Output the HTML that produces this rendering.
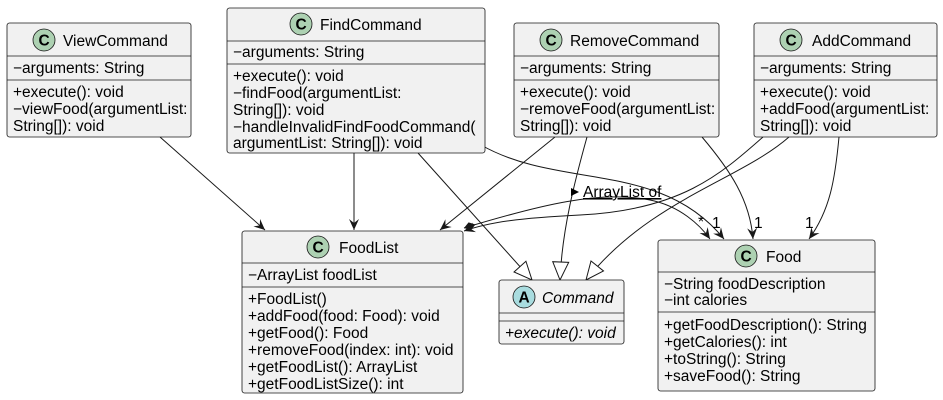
<!DOCTYPE html>
<html><head><meta charset="utf-8"><style>
body{margin:0;background:#fff;width:943px;height:400px;overflow:hidden}
svg{display:block}
text{font-family:"Liberation Sans","DejaVu Sans",sans-serif;font-size:15.5px;fill:#000}
.box{fill:#f1f1f1;stroke:#181818;stroke-width:0.8}
.ln{stroke:#181818;stroke-width:0.8}
.e{fill:none;stroke:#181818;stroke-width:1}
</style></head><body>
<svg width="943" height="400" viewBox="0 0 943 400">
<defs>
<marker id="a" viewBox="0 0 12 12" refX="11" refY="6" markerWidth="12" markerHeight="12" orient="auto" markerUnits="userSpaceOnUse"><path d="M0,1 L11,6 L0,11 L4,6 Z" fill="#181818"/></marker>
<marker id="t" viewBox="0 0 20 20" refX="19" refY="10" markerWidth="20" markerHeight="20" orient="auto" markerUnits="userSpaceOnUse"><path d="M1,2 L19,10 L1,18 Z" fill="#fff" stroke="#181818"/></marker>
<marker id="d" viewBox="0 0 14 10" refX="1" refY="5" markerWidth="14" markerHeight="10" orient="auto" markerUnits="userSpaceOnUse"><path d="M1,5 L7,1 L13,5 L7,9 Z" fill="#181818"/></marker>
</defs>

<path class="e" d="M160,137 L265,230" marker-end="url(#a)"/>
<path class="e" d="M354,153 L354,230" marker-end="url(#a)"/>
<path class="e" d="M418,153 L532,280" marker-end="url(#t)"/>
<path class="e" d="M481,145 C560,190 660,160 724,239" marker-end="url(#a)"/>
<path class="e" d="M555,137 L440,230" marker-end="url(#a)"/>
<path class="e" d="M587,137 C575,180 562,230 560,280" marker-end="url(#t)"/>
<path class="e" d="M702,137 C730,170 750,200 753,239" marker-end="url(#a)"/>
<path class="e" d="M763,137 C720,175 680,210 580,215 C520,218 490,222 464,231" marker-end="url(#a)"/>
<path class="e" d="M789,137 C740,180 650,200 586,280" marker-end="url(#t)"/>
<path class="e" d="M839,137 C835,180 830,210 809,239" marker-end="url(#a)"/>
<path class="e" d="M464,228 C540,205 600,190 650,200 C680,206 700,225 710,239" marker-start="url(#d)" marker-end="url(#a)"/>
<path d="M571,188 L579,192 L571,196 Z" fill="#000"/>
<text x="583" y="197" font-size="13.5" text-decoration="underline">ArrayList of</text>
<text x="698" y="227" font-size="12">*</text>
<text x="712" y="228" font-size="14">1</text>
<text x="754" y="228" font-size="14">1</text>
<text x="805" y="228" font-size="14">1</text>

<rect class="box" x="7" y="23" width="184" height="114" rx="2.5"/>
<circle cx="44" cy="40" r="11" fill="#add1b2" stroke="#181818" stroke-width="0.8"/><text x="38.5" y="45.5" font-weight="bold" font-size="15">C</text>
<text x="63" y="46" font-size="16.5">ViewCommand</text>
<line class="ln" x1="7" y1="56" x2="191" y2="56"/>
<text x="13" y="73">−arguments: String</text>
<line class="ln" x1="7" y1="80" x2="191" y2="80"/>
<text x="13" y="97">+execute(): void</text>
<text x="13" y="114">−viewFood(argumentList:</text>
<text x="13" y="131">String[]): void</text>

<rect class="box" x="227" y="8" width="258" height="145" rx="2.5"/>
<circle cx="301" cy="24" r="11" fill="#add1b2" stroke="#181818" stroke-width="0.8"/><text x="295.5" y="29.5" font-weight="bold" font-size="15">C</text>
<text x="320" y="30" font-size="16.5">FindCommand</text>
<line class="ln" x1="227" y1="41" x2="485" y2="41"/>
<text x="233" y="57">−arguments: String</text>
<line class="ln" x1="227" y1="64" x2="485" y2="64"/>
<text x="233" y="81">+execute(): void</text>
<text x="233" y="98">−findFood(argumentList:</text>
<text x="233" y="115">String[]): void</text>
<text x="233" y="132">−handleInvalidFindFoodCommand(</text>
<text x="233" y="148">argumentList: String[]): void</text>

<rect class="box" x="514" y="23" width="205" height="114" rx="2.5"/>
<circle cx="551" cy="40" r="11" fill="#add1b2" stroke="#181818" stroke-width="0.8"/><text x="545.5" y="45.5" font-weight="bold" font-size="15">C</text>
<text x="570" y="46" font-size="16.5">RemoveCommand</text>
<line class="ln" x1="514" y1="56" x2="719" y2="56"/>
<text x="520" y="73">−arguments: String</text>
<line class="ln" x1="514" y1="80" x2="719" y2="80"/>
<text x="520" y="97">+execute(): void</text>
<text x="520" y="114">−removeFood(argumentList:</text>
<text x="520" y="131">String[]): void</text>

<rect class="box" x="754" y="23" width="183" height="114" rx="2.5"/>
<circle cx="791" cy="40" r="11" fill="#add1b2" stroke="#181818" stroke-width="0.8"/><text x="785.5" y="45.5" font-weight="bold" font-size="15">C</text>
<text x="812" y="46" font-size="16.5">AddCommand</text>
<line class="ln" x1="754" y1="56" x2="937" y2="56"/>
<text x="760" y="73">−arguments: String</text>
<line class="ln" x1="754" y1="80" x2="937" y2="80"/>
<text x="760" y="97">+execute(): void</text>
<text x="760" y="114">+addFood(argumentList:</text>
<text x="760" y="131">String[]): void</text>

<rect class="box" x="242" y="231" width="221" height="162" rx="2.5"/>
<circle cx="318" cy="247" r="11" fill="#add1b2" stroke="#181818" stroke-width="0.8"/><text x="312.5" y="252.5" font-weight="bold" font-size="15">C</text>
<text x="339" y="253" font-size="16.5">FoodList</text>
<line class="ln" x1="242" y1="263" x2="463" y2="263"/>
<text x="248" y="280">−ArrayList foodList</text>
<line class="ln" x1="242" y1="287" x2="463" y2="287"/>
<text x="248" y="304">+FoodList()</text>
<text x="248" y="321">+addFood(food: Food): void</text>
<text x="248" y="338">+getFood(): Food</text>
<text x="248" y="355">+removeFood(index: int): void</text>
<text x="248" y="372">+getFoodList(): ArrayList</text>
<text x="248" y="389">+getFoodListSize(): int</text>

<rect class="box" x="499" y="280" width="125" height="64" rx="2.5"/>
<circle cx="524" cy="297" r="11" fill="#a9dcdf" stroke="#181818" stroke-width="0.8"/><text x="518.5" y="302.5" font-weight="bold" font-size="15">A</text>
<text x="542" y="303" font-size="16" font-style="italic">Command</text>
<line class="ln" x1="499" y1="313" x2="624" y2="313"/>
<line class="ln" x1="499" y1="321" x2="624" y2="321"/>
<text x="505" y="338" font-style="italic">+execute(): void</text>

<rect class="box" x="658" y="240" width="217" height="151" rx="2.5"/>
<circle cx="746" cy="256" r="11" fill="#add1b2" stroke="#181818" stroke-width="0.8"/><text x="740.5" y="261.5" font-weight="bold" font-size="15">C</text>
<text x="766" y="262" font-size="16.5">Food</text>
<line class="ln" x1="658" y1="272" x2="875" y2="272"/>
<text x="664" y="289">−String foodDescription</text>
<text x="664" y="305">−int calories</text>
<line class="ln" x1="658" y1="312" x2="875" y2="312"/>
<text x="664" y="330">+getFoodDescription(): String</text>
<text x="664" y="347">+getCalories(): int</text>
<text x="664" y="364">+toString(): String</text>
<text x="664" y="381">+saveFood(): String</text>
</svg>
</body></html>
